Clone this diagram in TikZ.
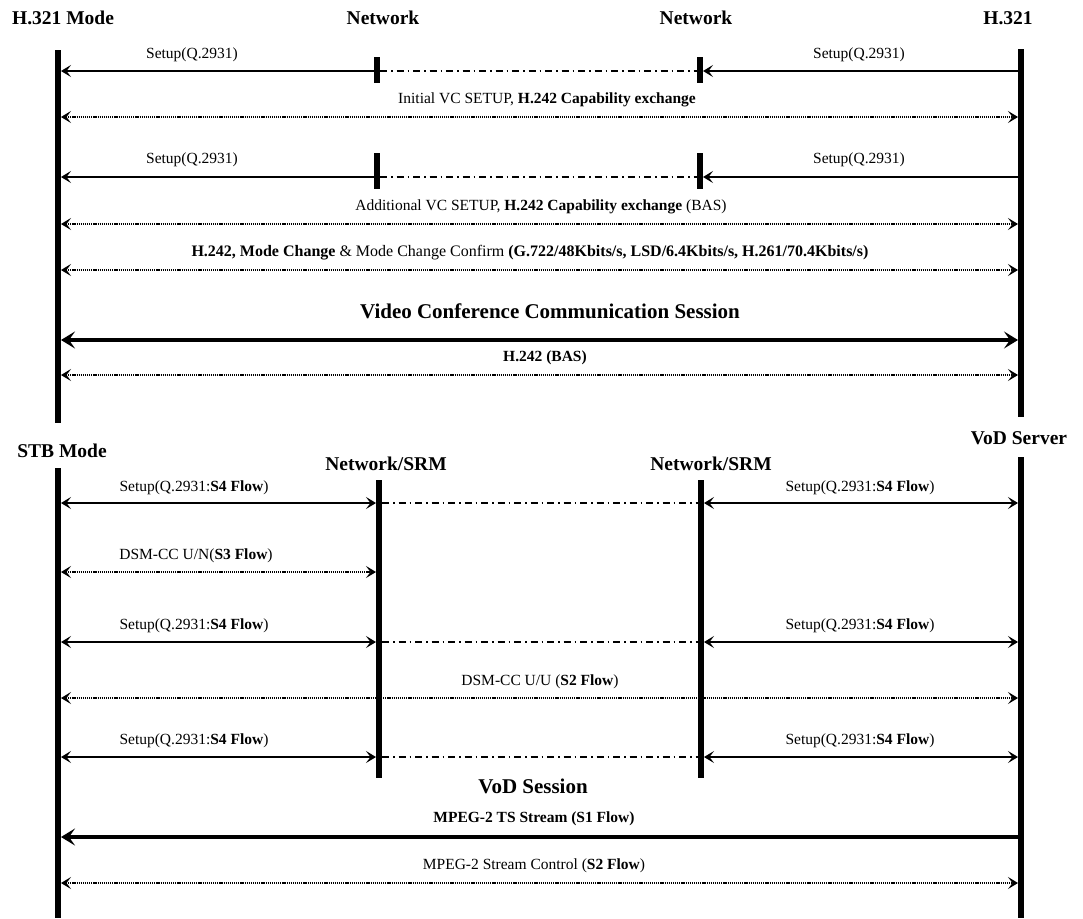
\documentclass[tikz,border=0pt]{standalone}
\usepackage{fontspec}
\setmainfont{Liberation Serif}
\usetikzlibrary{arrows.meta}
\begin{document}
\begin{tikzpicture}[x=1pt,y=-1pt,
 life/.style={line width=6.5pt},
 msg/.style={line width=1.8pt},
 dotmsg/.style={line width=1.3pt, dash pattern=on 1.2pt off 0.9pt},
 dashdot/.style={line width=1.4pt, dash pattern=on 7pt off 4pt on 1.5pt off 4pt},
 thickmsg/.style={line width=4.5pt},
 tip/.tip={Stealth[length=10pt,width=12pt,inset=4.5pt]},
 bigtip/.tip={Stealth[length=14pt,width=17pt,inset=6pt]},
 edge/.style={shorten <=3pt, shorten >=3pt},
 head/.style={font=\bfseries\fontsize{19.5}{22}\selectfont, inner sep=0pt},
 ttl/.style={font=\bfseries\fontsize{21}{24}\selectfont, inner sep=0pt},
 lbl/.style={font=\fontsize{15.5}{18}\selectfont, inner sep=0pt},
]
\useasboundingbox (0,0) rectangle (1083,918);
\fill[white] (0,0) rectangle (1083,918);

% ---------------- top part ----------------
\node[head] (hA) at (63,18) {H.321 Mode};
\node[head] (hN1) at (383,18) {Network};
\node[head] (hN2) at (696,18) {Network};
\node[head] (hB) at (1008,18) {H.321};

\coordinate (A0) at (58,50);  \coordinate (A1) at (58,423);
\coordinate (B0) at (1021,49); \coordinate (B1) at (1021,417);
\coordinate (N1a0) at (377,57); \coordinate (N1a1) at (377,83);
\coordinate (N2a0) at (700,57); \coordinate (N2a1) at (700,83);
\coordinate (N1b0) at (377,153); \coordinate (N1b1) at (377,189);
\coordinate (N2b0) at (700,153); \coordinate (N2b1) at (700,189);

% row 1
\coordinate (a1) at (58,71); \coordinate (n1r1) at (377,71);
\coordinate (n2r1) at (700,71); \coordinate (b1) at (1021,71);
\draw[msg,-tip,edge] (n1r1) -- (a1);
\draw[dashdot,edge] (n1r1) -- (n2r1);
\draw[msg,-tip,edge] (b1) -- (n2r1);
\node[lbl] (l1a) at (192,55) {Setup(Q.2931)};
\node[lbl] (l1b) at (859,55) {Setup(Q.2931)};

% row 2
\coordinate (a2) at (58,117); \coordinate (b2) at (1021,117);
\draw[dotmsg,tip-tip,edge] (a2) -- (b2);
\node[lbl] (l2) at (547,100) {Initial VC SETUP, \textbf{H.242 Capability exchange}};

% row 3
\coordinate (a3) at (58,177); \coordinate (n1r3) at (377,177);
\coordinate (n2r3) at (700,177); \coordinate (b3) at (1021,177);
\draw[msg,-tip,edge] (n1r3) -- (a3);
\draw[dashdot,edge] (n1r3) -- (n2r3);
\draw[msg,-tip,edge] (b3) -- (n2r3);
\node[lbl] (l3a) at (192,160) {Setup(Q.2931)};
\node[lbl] (l3b) at (859,160) {Setup(Q.2931)};

% row 4
\coordinate (a4) at (58,224); \coordinate (b4) at (1021,224);
\draw[dotmsg,tip-tip,edge] (a4) -- (b4);
\node[lbl] (l4) at (541,207) {Additional VC SETUP, \textbf{H.242 Capability exchange} (BAS)};

% row 5
\coordinate (a5) at (58,270); \coordinate (b5) at (1021,270);
\draw[dotmsg,tip-tip,edge] (a5) -- (b5);
\node[lbl,font=\fontsize{16}{18}\selectfont] (l5) at (530,253) {\textbf{H.242, Mode Change} \& Mode Change Confirm \textbf{(G.722/48Kbits/s, LSD/6.4Kbits/s, H.261/70.4Kbits/s)}};

\node[ttl] (vc) at (550,311) {Video Conference Communication Session};

% row 6
\coordinate (a6) at (58,340); \coordinate (b6) at (1021,340);
\draw[thickmsg,bigtip-bigtip,edge] (a6) -- (b6);
\node[lbl] (l6) at (545,358) {\textbf{H.242 (BAS)}};

% row 7
\coordinate (a7) at (58,375); \coordinate (b7) at (1021,375);
\draw[dotmsg,tip-tip,edge] (a7) -- (b7);

% lifelines top
\draw[life] (A0) -- (A1);
\draw[life] (B0) -- (B1);
\draw[life] (N1a0) -- (N1a1);
\draw[life] (N2a0) -- (N2a1);
\draw[life] (N1b0) -- (N1b1);
\draw[life] (N2b0) -- (N2b1);

% ---------------- bottom part ----------------
\node[head] (hC) at (62,451) {STB Mode};
\node[head] (hD) at (1019,438) {VoD Server};
\node[head] (hE) at (386,464) {Network/SRM};
\node[head] (hF) at (711,464) {Network/SRM};

\coordinate (C0) at (58,468); \coordinate (C1) at (58,918);
\coordinate (D0) at (1021,457); \coordinate (D1) at (1021,918);
\coordinate (E0) at (379,480); \coordinate (E1) at (379,778);
\coordinate (F0) at (701,480); \coordinate (F1) at (701,778);

% row a
\coordinate (ca) at (58,503); \coordinate (ea) at (379,503);
\coordinate (fa) at (701,503); \coordinate (da) at (1021,503);
\draw[msg,tip-tip,edge] (ca) -- (ea);
\draw[dashdot,edge] (ea) -- (fa);
\draw[msg,tip-tip,edge] (fa) -- (da);
\node[lbl] (la1) at (194,488) {Setup(Q.2931:\textbf{S4 Flow})};
\node[lbl] (la2) at (860,488) {Setup(Q.2931:\textbf{S4 Flow})};

% row b
\coordinate (cb) at (58,572); \coordinate (eb) at (379,572);
\draw[dotmsg,tip-tip,edge] (cb) -- (eb);
\node[lbl] (lb) at (196,556) {DSM-CC U/N(\textbf{S3 Flow})};

% row c
\coordinate (cc) at (58,642); \coordinate (ec) at (379,642);
\coordinate (fc) at (701,642); \coordinate (dc) at (1021,642);
\draw[msg,tip-tip,edge] (cc) -- (ec);
\draw[dashdot,edge] (ec) -- (fc);
\draw[msg,tip-tip,edge] (fc) -- (dc);
\node[lbl] (lc1) at (194,626) {Setup(Q.2931:\textbf{S4 Flow})};
\node[lbl] (lc2) at (860,626) {Setup(Q.2931:\textbf{S4 Flow})};

% row d
\coordinate (cd) at (58,698); \coordinate (dd) at (1021,698);
\draw[dotmsg,tip-tip,edge] (cd) -- (dd);
\node[lbl] (ld) at (540,682) {DSM-CC U/U (\textbf{S2 Flow})};

% row e
\coordinate (ce) at (58,757); \coordinate (ee) at (379,757);
\coordinate (fe) at (701,757); \coordinate (de) at (1021,757);
\draw[msg,tip-tip,edge] (ce) -- (ee);
\draw[dashdot,edge] (ee) -- (fe);
\draw[msg,tip-tip,edge] (fe) -- (de);
\node[lbl] (le1) at (194,741) {Setup(Q.2931:\textbf{S4 Flow})};
\node[lbl] (le2) at (860,741) {Setup(Q.2931:\textbf{S4 Flow})};

\node[ttl] (vod) at (533,786) {VoD Session};

% row f
\coordinate (cf) at (58,837); \coordinate (df) at (1021,837);
\draw[thickmsg,-bigtip,edge] (df) -- (cf);
\node[lbl] (lf) at (534,819) {\textbf{MPEG-2 TS Stream (S1 Flow)}};

% row g
\coordinate (cg) at (58,883); \coordinate (dg) at (1021,883);
\draw[dotmsg,tip-tip,edge] (cg) -- (dg);
\node[lbl] (lg) at (534,866) {MPEG-2 Stream Control (\textbf{S2 Flow})};

% lifelines bottom
\draw[life] (C0) -- (C1);
\draw[life] (D0) -- (D1);
\draw[life] (E0) -- (E1);
\draw[life] (F0) -- (F1);
\end{tikzpicture}
\end{document}
